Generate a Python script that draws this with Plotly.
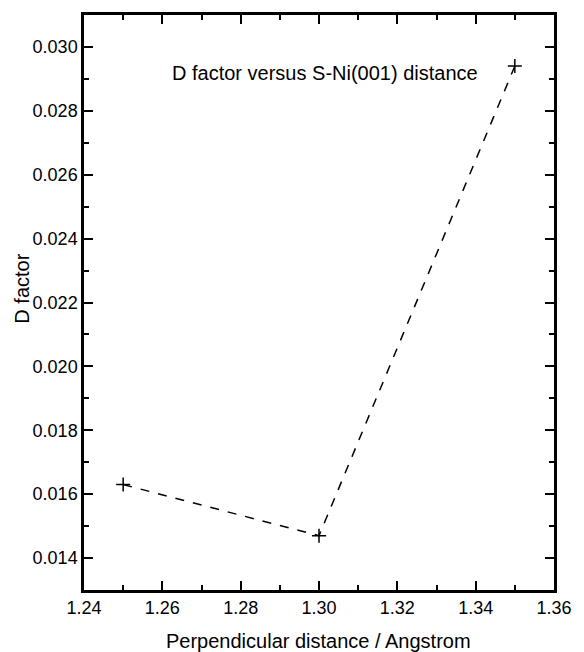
import plotly.graph_objects as go

# Data
distance = [1.25, 1.30, 1.35]
d_factor = [0.0163, 0.0147, 0.0294]
x_ticks = [1.24, 1.26, 1.28, 1.30, 1.32, 1.34, 1.36]
x_ticklabels = ["1.24", "1.26", "1.28", "1.30", "1.32", "1.34", "1.36"]
y_ticks = [0.014, 0.016, 0.018, 0.020, 0.022, 0.024, 0.026, 0.028, 0.030]
y_ticklabels = ["0.014", "0.016", "0.018", "0.020", "0.022", "0.024", "0.026", "0.028", "0.030"]
title_text = "D factor versus S-Ni(001) distance"
x_title = "Perpendicular distance / Angstrom"
y_title = "D factor"

FONT = "Liberation Sans, Arial, sans-serif"

fig = go.Figure()
fig.add_trace(go.Scatter(
    x=distance, y=d_factor, mode="lines+markers",
    line=dict(color="black", width=1.5, dash="dash"),
    marker=dict(symbol="cross-thin", size=10, line=dict(color="black", width=1.5)),
    showlegend=False,
))

axis_common = dict(
    showgrid=False, zeroline=False, showline=True, linecolor="black", linewidth=2.5,
    mirror="allticks", ticks="inside", tickcolor="black", tickwidth=1.8, ticklen=9,
    tickfont=dict(family=FONT, size=18, color="black"),
)

fig.update_xaxes(
    range=[1.24, 1.36], tickvals=x_ticks, ticktext=x_ticklabels,
    minor=dict(ticks="inside", dtick=0.01, tick0=1.24, ticklen=5, tickcolor="black", tickwidth=1.5),
    **axis_common,
)
fig.update_yaxes(
    range=[0.013, 0.031], tickvals=y_ticks, ticktext=y_ticklabels,
    minor=dict(ticks="inside", dtick=0.001, tick0=0.013, ticklen=5, tickcolor="black", tickwidth=1.5),
    **axis_common,
)

fig.add_annotation(x=1.3015, y=0.0292, xref="x", yref="y", text=title_text,
                   showarrow=False, xanchor="center", yanchor="middle",
                   font=dict(family=FONT, size=20, color="black"))
fig.add_annotation(x=0.498, y=-0.0884, xref="paper", yref="paper", text=x_title,
                   showarrow=False, xanchor="center", yanchor="middle",
                   font=dict(family=FONT, size=20, color="black"))
fig.add_annotation(x=-0.1328, y=0.5234, xref="paper", yref="paper", text=y_title,
                   showarrow=False, xanchor="center", yanchor="middle", textangle=-90,
                   font=dict(family=FONT, size=20, color="black"))

fig.update_layout(
    width=584, height=652,
    margin=dict(l=84, r=18, t=13, b=62),
    paper_bgcolor="white", plot_bgcolor="white",
    font=dict(family=FONT, color="black"),
)

fig.write_html("out.html")
